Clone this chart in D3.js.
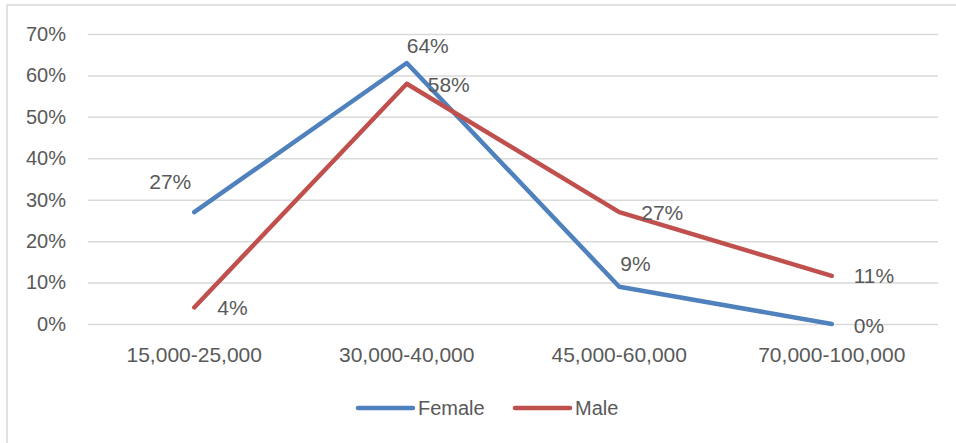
<!DOCTYPE html>
<html>
<head>
<meta charset="utf-8">
<script src="https://cdn.jsdelivr.net/npm/d3@7"></script>
<style>
  html, body { margin: 0; padding: 0; background: #fff; }
  svg { display: block; }
  text { font-family: "Liberation Sans", Arial, sans-serif; fill: #595959; }
</style>
</head>
<body>
<script>
const categories = ["15,000-25,000", "30,000-40,000", "45,000-60,000", "70,000-100,000"];
const seriesNames = ["Female", "Male"];
const femaleValues = [0.27, 0.63, 0.09, 0.0];
const maleValues = [0.04, 0.58, 0.27, 0.116];
const femaleLabels = ["27%", "64%", "9%", "0%"];
const maleLabels = ["4%", "58%", "27%", "11%"];
const yTicks = [0, 0.1, 0.2, 0.3, 0.4, 0.5, 0.6, 0.7];
const colors = ["#4f81bd", "#c0504d"];

const W = 956, H = 443;
const svg = d3.select("body").append("svg").attr("width", W).attr("height", H);

// outer chart border
svg.append("rect").attr("x", 7).attr("y", 5).attr("width", W + 10).attr("height", H + 10)
  .attr("fill", "none").attr("stroke", "#d9d9d9").attr("stroke-width", 1.5);

const plot = { left: 88, right: 938, top: 34, bottom: 324 };
const x = d3.scaleBand().domain(categories).range([plot.left, plot.right]);
const y = d3.scaleLinear().domain([0, 0.7]).range([plot.bottom, plot.top]);

// gridlines + y labels
const yAxis = d3.axisLeft(y).tickValues(yTicks).tickFormat(d3.format(".0%"))
  .tickSize(-(plot.right - plot.left)).tickPadding(22);
const gy = svg.append("g").attr("transform", `translate(${plot.left},0)`).call(yAxis);
gy.select(".domain").remove();
gy.selectAll(".tick line").attr("stroke", "#d9d9d9").attr("stroke-width", 1.5);
gy.selectAll(".tick text").attr("font-size", 20).style("fill", "#595959");

// x category labels
const xAxis = d3.axisBottom(x).tickSize(0).tickPadding(23);
const gx = svg.append("g").attr("transform", `translate(0,${plot.bottom})`).call(xAxis);
gx.select(".domain").remove();
gx.selectAll(".tick text").attr("font-size", 21).style("fill", "#595959");

const series = [
  { name: seriesNames[0], values: femaleValues, labels: femaleLabels, color: colors[0] },
  { name: seriesNames[1], values: maleValues, labels: maleLabels, color: colors[1] }
];

// label placement offsets (relative to points), per series
const labelOffsets = [
  [[-45, -23], [0, -10], [1, -16], [22, 9]],
  [[23, 8], [21, 8], [22, 8], [22, 7]]
];

const line = d3.line()
  .x((d, i) => x(categories[i]) + x.bandwidth() / 2)
  .y(d => y(d));

series.forEach((s, si) => {
  svg.append("path").datum(s.values)
    .attr("d", line)
    .attr("fill", "none")
    .attr("stroke", s.color)
    .attr("stroke-width", 4.5)
    .attr("stroke-linecap", "round")
    .attr("stroke-linejoin", "round");
});

series.forEach((s, si) => {
  svg.append("g").selectAll("text").data(s.values).join("text")
    .attr("x", (d, i) => x(categories[i]) + x.bandwidth() / 2 + labelOffsets[si][i][0])
    .attr("y", (d, i) => y(d) + labelOffsets[si][i][1])
    .attr("font-size", 21)
    .text((d, i) => s.labels[i]);
});

// legend
const legendX = [358, 515];
const legendY = 408;
series.forEach((s, si) => {
  const g = svg.append("g").attr("transform", `translate(${legendX[si]},${legendY})`);
  g.append("line").attr("x1", 0).attr("x2", 55).attr("y1", 0).attr("y2", 0)
    .attr("stroke", s.color).attr("stroke-width", 4.5).attr("stroke-linecap", "round");
  g.append("text").attr("x", 60).attr("y", 0).attr("dy", "0.35em")
    .attr("font-size", 20).text(s.name);
});
</script>
</body>
</html>
